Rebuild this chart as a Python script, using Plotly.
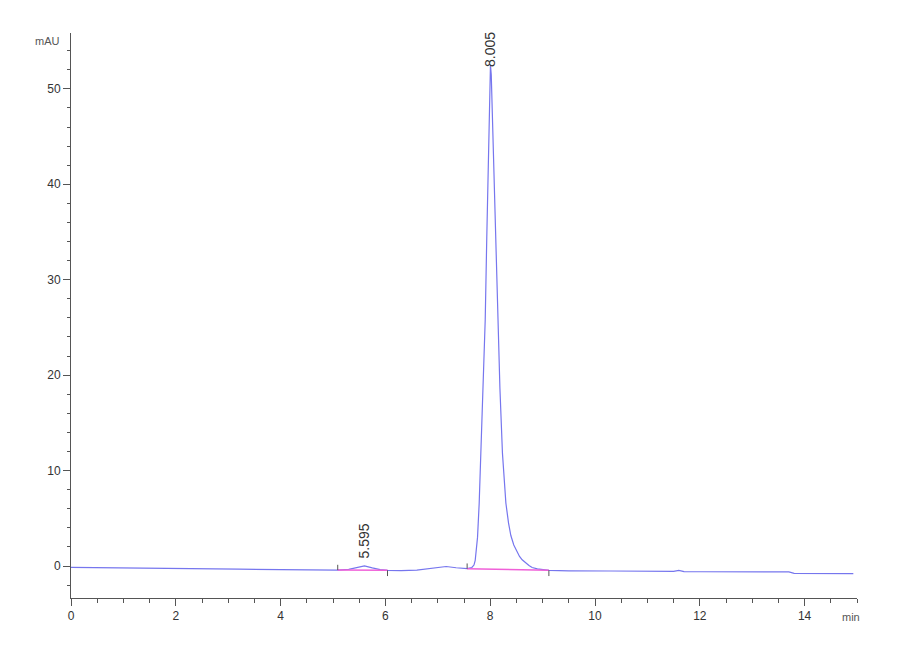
import plotly.graph_objects as go

# chromatogram signal (min, mAU)
time_min = [0.0, 0.5, 0.9, 1.5, 2.5, 3.2, 4.0, 4.8, 5.09, 5.3, 5.45, 5.6, 5.75,
            5.9, 6.04, 6.3, 6.6, 6.8, 7.0, 7.16, 7.35, 7.56, 7.65, 7.69, 7.714,
            7.733, 7.758, 7.79, 7.823, 7.867, 7.905, 7.935, 7.968, 7.99, 8.005,
            8.02, 8.057, 8.1, 8.143, 8.185, 8.234, 8.299, 8.35, 8.394, 8.45,
            8.514, 8.56, 8.61, 8.68, 8.74, 8.8, 8.9, 9.12, 9.5, 10.3, 11.0,
            11.5, 11.6, 11.7, 12.0, 13.0, 13.7, 13.8, 14.5, 14.93]
signal_mau = [-0.14, -0.16, -0.25, -0.27, -0.28, -0.32, -0.38, -0.42, -0.42,
              -0.35, -0.2, 0.02, -0.2, -0.38, -0.45, -0.48, -0.42, -0.3, -0.22,
              -0.05, -0.18, -0.28, -0.15, 0.1, 0.6, 1.4, 3.0, 6.6, 11.8, 18.7,
              25.8, 34.5, 44.3, 50.5, 52.5, 51.5, 44.3, 34.5, 25.8, 18.7, 11.8,
              6.6, 4.5, 3.2, 2.2, 1.4, 1.0, 0.65, 0.3, 0.05, -0.15, -0.3, -0.45,
              -0.5, -0.52, -0.55, -0.56, -0.45, -0.58, -0.6, -0.62, -0.62, -0.76,
              -0.76, -0.8]

# integration events: start/end times and baseline levels
peak_start = [5.09, 7.56]
peak_end = [6.04, 9.12]
base_start = [-0.42, -0.28]
base_end = [-0.45, -0.45]

# retention time labels
peak_rt = [5.595, 8.005]
peak_top = [0.02, 52.5]

x_ticks = [0, 2, 4, 6, 8, 10, 12, 14]
y_ticks = [0, 10, 20, 30, 40, 50]

font = "Liberation Sans, Arial, sans-serif"

fig = go.Figure()

fig.add_trace(go.Scatter(
    x=time_min, y=signal_mau, mode="lines",
    line=dict(color="#7676ee", width=1.2),
    hoverinfo="x+y"
))

# integration baselines
bx, by = [], []
for t0, t1, b0, b1 in zip(peak_start, peak_end, base_start, base_end):
    bx += [t0, t1, None]
    by += [b0, b1, None]
fig.add_trace(go.Scatter(x=bx, y=by, mode="lines",
                         line=dict(color="#f060d8", width=1.5), hoverinfo="skip"))

# small event ticks (start up, end down)
ex, ey = [], []
for t0, t1, b0, b1 in zip(peak_start, peak_end, base_start, base_end):
    ex += [t0, t0, None, t1, t1, None]
    ey += [b0, b0 + 0.55, None, b1, b1 - 0.6, None]
fig.add_trace(go.Scatter(x=ex, y=ey, mode="lines",
                         line=dict(color="#555555", width=1), hoverinfo="skip"))

for rt, top in zip(peak_rt, peak_top):
    fig.add_annotation(x=rt, y=top, text=f"{rt:.3f}", textangle=-90,
                       showarrow=False, xanchor="center", yanchor="bottom",
                       yshift=5 if top < 5 else -4,
                       font=dict(family=font, size=14, color="#333333"))

fig.add_annotation(x=15, y=-3.35, xref="x", yref="y", text="min", showarrow=False,
                   xanchor="center", yanchor="top", xshift=-6, yshift=-11,
                   font=dict(family=font, size=11, color="#555555"))
fig.add_annotation(x=0, y=55.85, xref="x", yref="y", text="mAU", showarrow=False,
                   xanchor="right", yanchor="middle", xshift=-9, yshift=-8,
                   font=dict(family=font, size=11, color="#555555"))

# page body adds 8px offset, so margins are trimmed to keep the plot box in place
fig.update_layout(
    width=900, height=660,
    margin=dict(l=63, r=51, t=25, b=70),
    paper_bgcolor="white", plot_bgcolor="white",
    showlegend=False,
    font=dict(family=font, size=12, color="#333333"),
    xaxis=dict(range=[0, 15], tickvals=x_ticks, showgrid=False, zeroline=False,
               showline=True, linecolor="#555555", linewidth=1,
               ticks="outside", ticklen=7, tickcolor="#555555",
               minor=dict(dtick=0.5, ticks="outside", ticklen=4, tickcolor="#555555"),
               tickfont=dict(size=12, color="#333333")),
    yaxis=dict(range=[-3.35, 55.85], tickvals=y_ticks, showgrid=False, zeroline=False,
               showline=True, linecolor="#555555", linewidth=1,
               ticks="outside", ticklen=7, tickcolor="#555555",
               minor=dict(dtick=2, ticks="outside", ticklen=3, tickcolor="#555555"),
               tickfont=dict(size=12, color="#333333")),
)

fig.write_html("out.html")
